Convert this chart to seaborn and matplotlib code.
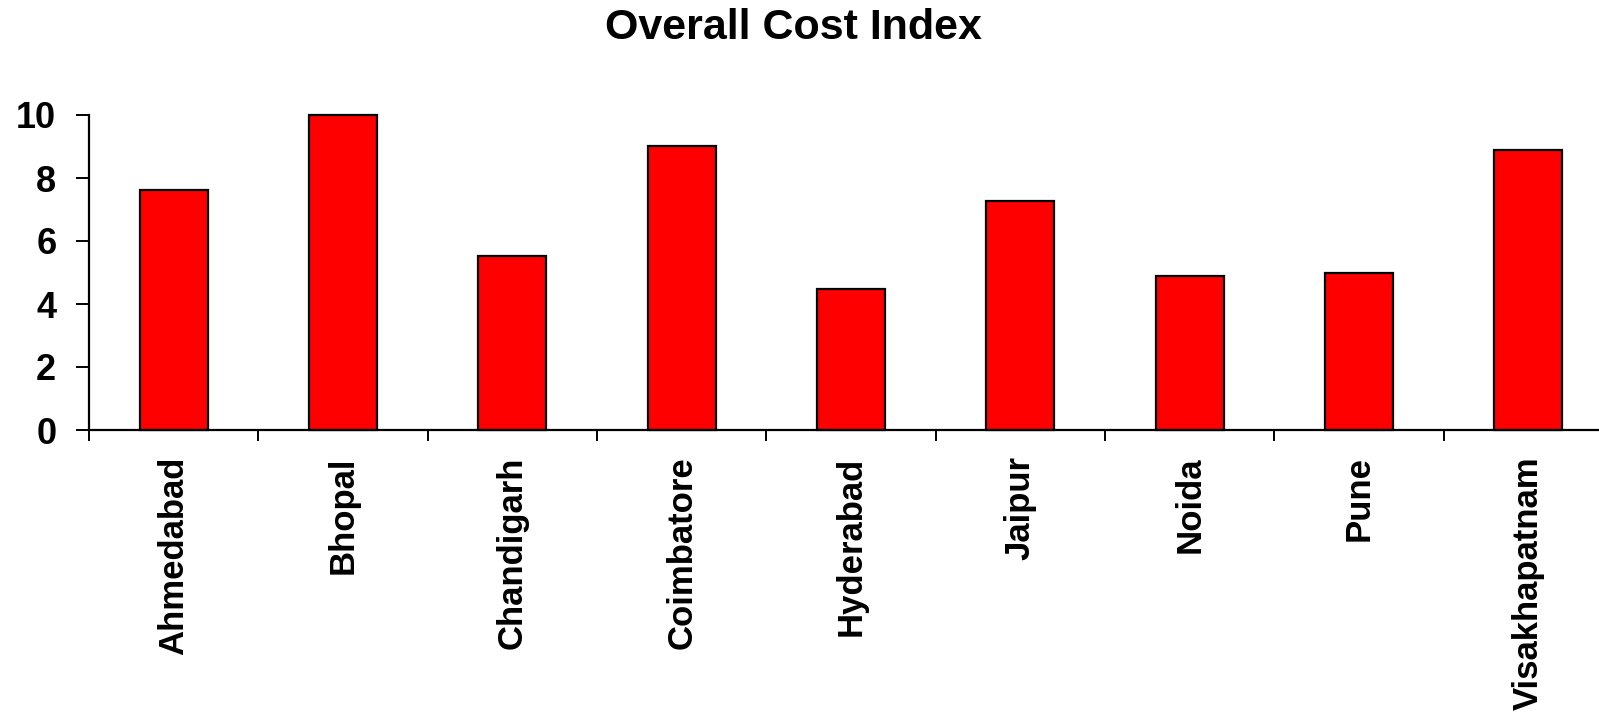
import matplotlib
matplotlib.use("Agg")
import matplotlib.pyplot as plt
import seaborn as sns
import pandas as pd
import numpy as np

cities = ["Ahmedabad", "Bhopal", "Chandigarh", "Coimbatore", "Hyderabad",
          "Jaipur", "Noida", "Pune", "Visakhapatnam"]
cost_index = [7.63, 10.0, 5.53, 9.02, 4.48, 7.28, 4.90, 4.97, 8.88]
y_ticks = [0, 2, 4, 6, 8, 10]
title = "Overall Cost Index"

sns.set_style("white")
plt.rcParams["font.family"] = ["Liberation Sans", "DejaVu Sans"]
plt.rcParams["font.weight"] = "bold"
plt.rcParams["text.color"] = "black"
plt.rcParams["xtick.color"] = "black"
plt.rcParams["ytick.color"] = "black"

df = pd.DataFrame({"city": cities, "cost": cost_index})

fig = plt.figure(figsize=(15.99, 7.17), dpi=100)
ax = fig.add_axes([89 / 1599, 287 / 717, (1613 - 89) / 1599, (430 - 115) / 717])

sns.barplot(data=df, x="city", y="cost", color="#ff0000", saturation=1,
            width=0.4, edgecolor="black", linewidth=1.6, ax=ax)
for p in ax.patches:
    p.set_clip_on(False)

ax.set_xlim(-0.5, len(cities) - 0.5)
ax.set_ylim(0, 10)
ax.set_yticks(y_ticks)
ax.set_xlabel("")
ax.set_ylabel("")

sns.despine(ax=ax, top=True, right=True)
for s in ("left", "bottom"):
    ax.spines[s].set_linewidth(1.6)
    ax.spines[s].set_color("black")

ax.set_xticks(np.arange(len(cities)))
ax.set_xticklabels(cities, rotation=90, fontsize=25, fontweight="bold",
                   va="top", color="black")
ax.set_xticks(np.arange(-0.5, len(cities)), minor=True)
ax.tick_params(axis="x", which="major", length=0, pad=19)
ax.tick_params(axis="x", which="minor", length=8, width=1.4, color="black",
               direction="out", bottom=True)
ax.tick_params(axis="y", which="major", length=9.5, width=1.4, color="black",
               direction="out", left=True, pad=14, labelsize=26,
               labelcolor="black")
for lab in ax.get_yticklabels():
    lab.set_fontweight("bold")

fig.text(793 / 1599, 1 - 28 / 717, title, ha="center", va="center",
         fontsize=31, fontweight="bold", color="black")

fig.savefig("out.png", dpi=100)
